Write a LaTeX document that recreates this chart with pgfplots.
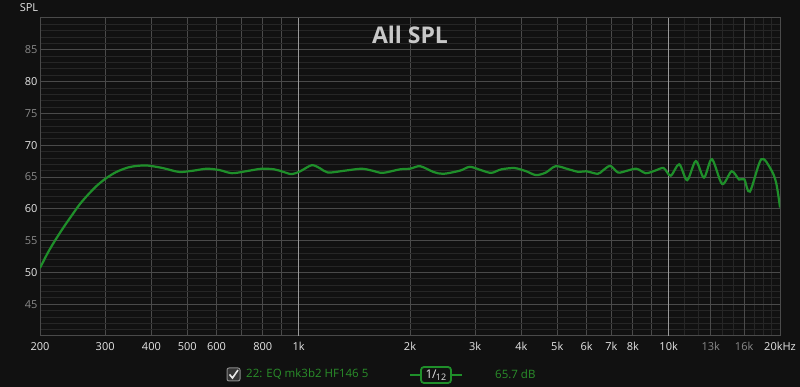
\documentclass[border=0pt]{standalone}
\usepackage{fontspec}
\setmainfont{Open Sans}
\usepackage{pgfplots}
\pgfplotsset{compat=1.18}
\definecolor{bg}{HTML}{111111}
\definecolor{gmin}{HTML}{262626}
\definecolor{gmid}{HTML}{2E2E2E}
\definecolor{gmaj}{HTML}{4A4A4A}
\definecolor{gbright}{HTML}{9A9A9A}
\definecolor{lbl}{HTML}{E6E6E6}
\definecolor{lbldim}{HTML}{8A8A8A}
\definecolor{curve}{HTML}{1F8F2A}
\definecolor{legtext}{HTML}{2A8F2A}
\definecolor{titlec}{HTML}{C8C8C8}
\pgfplotstableread{
f db
200 50.7
210 53.1
219 54.9
231 57.0
243 58.85
256 60.7
270 62.25
284 63.56
300 64.7
321 65.77
346 66.5
368 66.76
391 66.8
430 66.4
475 65.8
520 66.0
564 66.3
610 66.1
660 65.6
720 65.9
794 66.3
860 66.2
910 65.8
958 65.45
1010 65.9
1084 66.85
1140 66.4
1200 65.7
1335 66.0
1478 66.3
1580 66.0
1688 65.65
1878 66.2
2000 66.3
2130 66.7
2312 65.8
2460 65.5
2731 66.0
2903 66.6
3121 66.05
3319 65.65
3528 66.2
3835 66.4
4121 65.9
4380 65.3
4657 65.7
4952 66.7
5373 66.2
5712 65.8
5987 65.9
6430 65.5
6635 66.0
6955 66.75
7300 65.7
7691 65.96
8185 66.3
8670 65.6
9190 66.0
9692 66.4
10130 65.2
10680 67.0
11220 64.5
11840 67.5
12460 64.9
13090 67.8
13950 63.9
14800 65.9
15500 64.6
16010 64.65
16580 62.7
17800 67.8
18940 66.1
19540 64.0
20000 60.2
}\spl
\begin{document}
\begin{tikzpicture}[x=1pt,y=1pt]
\fill[bg] (0,0) rectangle (800,387);
\begin{axis}[
 at={(40pt,51pt)}, anchor=south west, scale only axis, width=740pt, height=318pt,
 xmode=log, xmin=200, xmax=20000, ymin=40, ymax=90,
 axis background/.style={fill=bg},
 axis line style={draw=gmaj, line width=1pt},
 major tick length=0pt, minor tick length=0pt,
 xtick={200,300,400,500,600,700,800,900,1000,2000,3000,4000,5000,6000,7000,8000,9000,10000,20000},
 xticklabels={200,300,400,500,600,,800,,1k,2k,3k,4k,5k,6k,7k,8k,,10k,20kHz},
 minor xtick={11000,12000,14000,15000,17000,18000,19000},
 extra x ticks={13000,16000},
 extra x tick labels={\textcolor{lbldim}{13k},\textcolor{lbldim}{16k}},
 extra x tick style={grid style={draw=gmid, line width=0.8pt}},
 ytick={50,60,70,80}, yticklabels={50,60,70,80},
 extra y ticks={45,55,65,75,85},
 extra y tick labels={\textcolor{lbldim}{45},\textcolor{lbldim}{55},\textcolor{lbldim}{65},\textcolor{lbldim}{75},\textcolor{lbldim}{85}},
 extra y tick style={grid style={draw=gmid, line width=0.8pt}},
 minor ytick={41,42,43,44,46,47,48,49,51,52,53,54,56,57,58,59,61,62,63,64,66,67,68,69,71,72,73,74,76,77,78,79,81,82,83,84,86,87,88,89},
 grid=both,
 major grid style={draw=gmaj, line width=0.8pt},
 minor grid style={draw=gmin, line width=0.8pt},
 ticklabel style={font=\fontsize{11}{11}\selectfont, text=lbl},
 xticklabel style={yshift=-3pt},
 yticklabel style={xshift=1pt},
 clip=true,
]
\draw[gbright, line width=1pt] (axis cs:1000,40) -- (axis cs:1000,90);
\draw[gbright, line width=1pt] (axis cs:10000,40) -- (axis cs:10000,90);
\addplot[curve, line width=2.2pt, smooth, tension=0.5] table[x=f, y=db] {\spl};
\node[font=\bfseries\fontsize{23}{23}\selectfont, text=titlec] at (rel axis cs:0.5,0.9465) {All SPL};
\end{axis}
\node[font=\fontsize{11}{11}\selectfont, text=lbl] at (29,379) {SPL};
% legend
\draw[rounded corners=2pt, draw=lbldim, fill=gmaj!70!black, line width=1pt] (227,6) rectangle (240,19);
\draw[lbl, line width=1.6pt] (229.5,12.5) -- (232.5,9) -- (238,17);
\node[font=\fontsize{11.5}{11.5}\selectfont, text=legtext, anchor=west, inner sep=0pt] at (246,12.5) {22: EQ mk3b2 HF146 5};
\draw[curve, line width=2pt] (410,12) -- (462,12);
\draw[curve, fill=bg, line width=1.8pt, rounded corners=3pt] (421,4) rectangle (451,20);
\node[font=\fontsize{12}{12}\selectfont, text=lbl, inner sep=0pt] at (436,12) {1\kern-0.5pt/\kern-0.5pt\raisebox{-2pt}{\fontsize{9}{9}\selectfont 12}};
\node[font=\fontsize{11.5}{11.5}\selectfont, text=legtext, anchor=west, inner sep=0pt] at (495,12.5) {65.7 dB};
\pgfresetboundingbox
\path[use as bounding box] (0,0) rectangle (800,387);
\end{tikzpicture}
\end{document}
